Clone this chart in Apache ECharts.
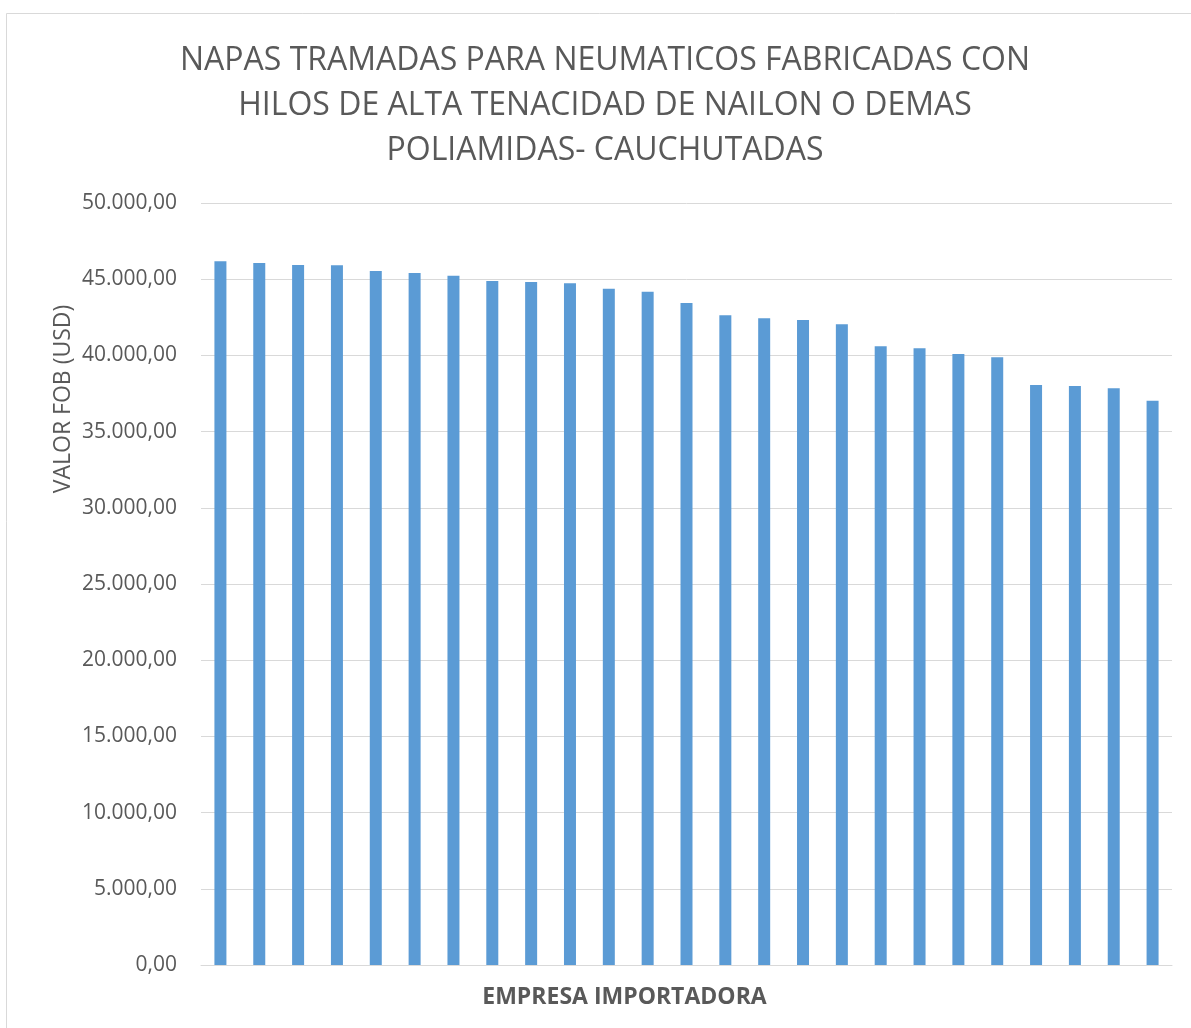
<!DOCTYPE html>
<html>
<head>
<meta charset="utf-8">
<script src="https://cdn.jsdelivr.net/npm/echarts@6/dist/echarts.min.js"></script>
<style>
html,body{margin:0;padding:0;background:#fff;}
#chart{width:1191px;height:1028px;}
</style>
</head>
<body>
<div id="chart"></div>
<script>
var titleLines = [
  'NAPAS TRAMADAS PARA NEUMATICOS FABRICADAS CON',
  'HILOS DE ALTA TENACIDAD DE NAILON O DEMAS',
  'POLIAMIDAS- CAUCHUTADAS'
];
var categories = [
  'Empresa 1','Empresa 2','Empresa 3','Empresa 4','Empresa 5',
  'Empresa 6','Empresa 7','Empresa 8','Empresa 9','Empresa 10',
  'Empresa 11','Empresa 12','Empresa 13','Empresa 14','Empresa 15',
  'Empresa 16','Empresa 17','Empresa 18','Empresa 19','Empresa 20',
  'Empresa 21','Empresa 22','Empresa 23','Empresa 24','Empresa 25'
];
var valores = [
  46180, 46060, 45930, 45910, 45540,
  45410, 45230, 44880, 44820, 44730,
  44380, 44180, 43440, 42630, 42430,
  42320, 42040, 40600, 40470, 40090,
  39880, 38060, 37990, 37840, 37030
];
var yAxisName = 'VALOR FOB (USD)';
var xAxisName = 'EMPRESA IMPORTADORA';

function fmt(v) {
  var s = Math.round(v).toString().replace(/\B(?=(\d{3})+(?!\d))/g, '.');
  return s + ',00';
}

var chart = echarts.init(document.getElementById('chart'));
chart.setOption({
  animation: false,
  backgroundColor: '#ffffff',
  graphic: [
    {
      type: 'rect',
      shape: { x: 6.5, y: 13.5, width: 1300, height: 1200 },
      style: { fill: 'none', stroke: '#D9D9D9', lineWidth: 1 },
      silent: true
    },
    {
      type: 'text',
      x: 605,
      y: 38,
      style: {
        text: titleLines.join('\n'),
        textAlign: 'center',
        textVerticalAlign: 'top',
        fill: '#595959',
        font: '32px "Open Sans", sans-serif',
        lineHeight: 45
      }
    },
    {
      type: 'text',
      x: 63,
      y: 399,
      rotation: Math.PI / 2,
      style: {
        text: yAxisName,
        textAlign: 'center',
        textVerticalAlign: 'middle',
        fill: '#595959',
        font: '23px "Open Sans", sans-serif'
      }
    }
  ],
  grid: { left: 201, right: 19, top: 203, bottom: 63, containLabel: false },
  xAxis: {
    type: 'category',
    data: categories,
    name: xAxisName,
    nameLocation: 'middle',
    nameGap: 21,
    nameTextStyle: {
      color: '#595959',
      fontFamily: 'Open Sans',
      fontWeight: 'bold',
      fontSize: 23,
      padding: [0, 124, 0, 0]
    },
    axisLine: { show: true, lineStyle: { color: '#D9D9D9', width: 1 } },
    axisTick: { show: false },
    axisLabel: { show: false }
  },
  yAxis: {
    type: 'value',
    min: 0,
    max: 50000,
    interval: 5000,
    axisLine: { show: false },
    axisTick: { show: false },
    axisLabel: {
      color: '#595959',
      fontFamily: 'Open Sans',
      fontSize: 21,
      margin: 24,
      formatter: fmt
    },
    splitLine: { lineStyle: { color: '#D9D9D9', width: 1 } }
  },
  series: [{
    type: 'bar',
    data: valores,
    barWidth: 12,
    itemStyle: { color: '#5B9BD5' }
  }]
});
</script>
</body>
</html>
